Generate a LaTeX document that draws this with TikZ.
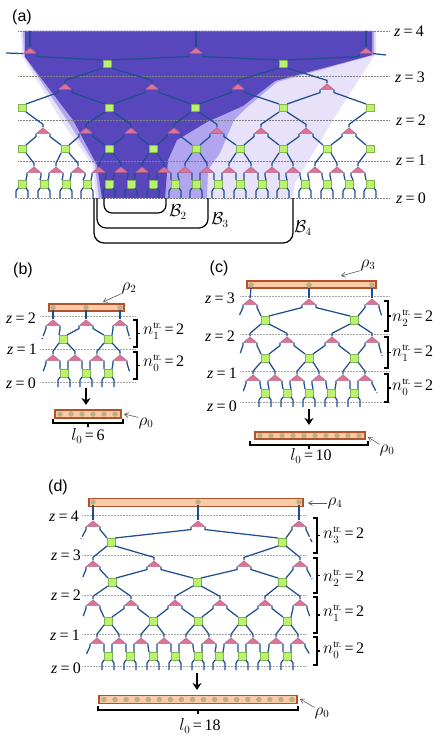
\documentclass[tikz,border=0pt]{standalone}
\usepackage{amsmath}
\usepackage{fontspec}
\setmainfont{Liberation Serif}
\newfontfamily\panelfont{Liberation Sans}
\usetikzlibrary{calc,shapes.geometric,arrows.meta}

\definecolor{wireblue}{HTML}{1F4E8F}
\definecolor{trifill}{HTML}{DB7499}
\definecolor{triedge}{HTML}{B4587C}
\definecolor{sqfill}{HTML}{BBF36E}
\definecolor{sqedge}{HTML}{82B450}
\definecolor{barfill}{HTML}{FBCBA8}
\definecolor{baredge}{HTML}{B2512A}
\definecolor{dotfill}{HTML}{B9B184}
\definecolor{regionA}{HTML}{E7E2FA}
\definecolor{regionB}{HTML}{B0A5EE}
\definecolor{regionC}{HTML}{5847BC}

\tikzset{
  tri/.style={isosceles triangle, isosceles triangle stretches, shape border rotate=90,
    minimum width=13pt, minimum height=5.5pt, inner sep=0pt, fill=trifill, draw=triedge, line width=.4pt},
  sq/.style={rectangle, minimum size=7.5pt, inner sep=0pt, fill=sqfill, draw=sqedge, line width=.5pt},
  wire/.style={wireblue, line width=1.25pt},
  freewire/.style={wire, dash pattern=on 11pt off 2pt on 4pt},
  zline/.style={gray, line width=.5pt, densely dotted},
  zpale/.style={gray!70, line width=.5pt, densely dotted},
  bar/.style={rectangle, inner sep=0pt, fill=barfill, draw=baredge, line width=1.1pt},
  bead/.style={circle, minimum size=5.5pt, inner sep=0pt, fill=dotfill},
  brk/.style={black, line width=1.2pt},
  ptr/.style={gray!70!black, line width=.6pt, -{Straight Barb[length=4pt,width=5pt]}},
  bigarrow/.style={black, line width=2pt, -{Stealth[length=7pt,width=9pt]}},
  lab/.style={font=\fontsize{16}{18}\selectfont, inner sep=0pt},
  panel/.style={font=\panelfont\fontsize{16}{18}\selectfont, inner sep=0pt}
}

\newcommand{\trirow}[3]{\foreach \x [count=\i] in {#3} \node[tri] (#1\i) at (\x,#2) {};}
\newcommand{\sqrow}[3]{\foreach \x [count=\i] in {#3} \node[sq] (#1\i) at (\x,#2) {};}
\newcommand{\beadrow}[3]{\foreach \x [count=\i] in {#3} \node[bead] (#1\i) at (\x,#2) {};}
\newcommand{\tritosq}[3]{\foreach \i/\j/\k in {#3} {
    \ifnum\j>0\relax \draw[wire] (#1\i.left corner) -- ++(0,3) -- (#2\j.north east); \fi
    \ifnum\k>0\relax \draw[wire] (#1\i.right corner) -- ++(0,3) -- (#2\k.north west); \fi}}
\newcommand{\sqtotri}[3]{\foreach \i/\j/\k in {#3} {
    \ifnum\j>0\relax \draw[wire] (#1\i.south west) -- ($(#2\j.apex)+(0,-3)$) -- (#2\j.apex); \fi
    \ifnum\k>0\relax \draw[wire] (#1\i.south east) -- ($(#2\k.apex)+(0,-3)$) -- (#2\k.apex); \fi}}
\newcommand{\chain}[3]{\foreach \i in {1,...,#3} {
    \pgfmathsetmacro{\nxt}{int(\i+1)}
    \draw[wire] (#1\i.left corner) -- ++(0,3) -- (#2\i.north east);
    \draw[wire] (#1\i.right corner) -- ++(0,3) -- (#2\nxt.north west);}}
\newcommand{\footrow}[2]{\foreach \i in {1,...,#2} {
    \draw[wire] (#1\i.south west) -- ++(-2,3) -- ++(0,7);
    \draw[wire] (#1\i.south east) -- ++(2,3) -- ++(0,7);}}
\newcommand{\freeleg}[3]{\coordinate (fr) at (#2,#3); \draw[freewire] (#1) -- ++(0,3) -- (fr);}
\newcommand{\sidebrk}[3]{\draw[brk] (#1,#2) -- ++(4,0) -- ++(0,{#3-#2}) -- ++(-4,0);
  \draw[brk] (#1+4,{(#2+#3)/2}) -- ++(3,0);}
\newcommand{\lowbrk}[4]{\draw[brk] (#1,#3) -- ++(0,4) -- (#2,#3+4) -- (#2,#3);
  \draw[brk] ({(#1+#2)/2},#3+4) -- ++(0,#4);}
\newcommand{\zval}[1]{\textit{z}\hspace{.2em}=\hspace{.2em}#1}
\newcommand{\ntr}[1]{$n_{#1}^{\text{\fontsize{10}{10}\selectfont tr.}}$\,=\,2}

\begin{document}
\begin{tikzpicture}[x=1pt,y=-1pt]
  \useasboundingbox (0,0) rectangle (436,738);

  \fill[regionA] (21,31) -- (376,31) -- (376,53) -- (333,120) -- (295,183) -- (293,198) -- (96,198) -- (92,165) -- (61,120) -- (22,56) -- cycle;
  \fill[regionB] (23,31) -- (374,31) -- (374,55) -- (277,82) -- (245,109) -- (234,120) -- (220,153) -- (208,170) -- (207,198) -- (99,198) -- (95,165) -- (67,120) -- (24,56) -- cycle;
  \fill[regionC] (25,31) -- (372,31) -- (372,55) -- (275,81) -- (243,106) -- (207,122) -- (177,140) -- (168,160) -- (165,198) -- (102,198) -- (97,165) -- (73,120) -- (25,57) -- cycle;

  \foreach \y in {31,76,120,161,198} \draw[zline] (18,\y) -- (390,\y);
  \foreach \y/\t/\x in {31/4/409, 77/3/410, 120/2/411, 160/1/411, 198/0/411}
    \node[lab] (az\t) at (\x,\y) {\zval{\t}};
  \node[panel] (atag) at (22,17) {(a)};

  \coordinate (atop1) at (30,31);
  \coordinate (atop2) at (196,31);
  \coordinate (atop3) at (366,31);
  \coordinate (aendL) at (6,53);
  \coordinate (aendR) at (386,55);
  \trirow{a5t}{51}{30,196,366}
  \sqrow{a4s}{64}{107,283}
  \trirow{a4t}{87}{65,152,238,327}
  \sqrow{a3s}{108}{22,109,195,283,370}
  \trirow{a3t}{131}{43,86,131,174,217,261,306,349}
  \sqrow{a2s}{149}{22,65,109,153,196,240,283,327,370}
  \trirow{a2t}{170}{34,56,78,99,121,142,164,185,207,229,251,272,293,315,337,358}
  \sqrow{a1s}{184}{22,44,66,87,109,131,153,175,196,218,240,262,283,305,327,349,370}
  \foreach \i in {1,2,3} \draw[wire] (atop\i) -- (a5t\i.apex);
  \draw[wire] (a5t1.left corner) -- (aendL);
  \draw[wire] (a5t3.right corner) -- (aendR);
  \tritosq{a5t}{a4s}{1/0/1, 2/1/2, 3/2/0}
  \sqtotri{a4s}{a4t}{1/1/2, 2/3/4}
  \chain{a4t}{a3s}{4}
  \sqtotri{a3s}{a3t}{1/0/1, 2/2/3, 3/4/5, 4/6/7, 5/8/0}
  \chain{a3t}{a2s}{8}
  \sqtotri{a2s}{a2t}{1/0/1, 2/2/3, 3/4/5, 4/6/7, 5/8/9, 6/10/11, 7/12/13, 8/14/15, 9/16/0}
  \chain{a2t}{a1s}{16}
  \footrow{a1s}{17}

  \draw[brk, rounded corners=8pt] (166,198) -- (166,213) -- (104,213) -- (104,198);
  \draw[brk, rounded corners=9pt] (208,198) -- (208,228) -- (97,228) -- (97,198);
  \draw[brk, rounded corners=10pt] (293,198) -- (293,243) -- (94,243) -- (94,198);
  \node[lab] (btwo) at (178,212) {$\mathcal{B}_2$};
  \node[lab] (bthree) at (220,220) {$\mathcal{B}_3$};
  \node[lab] (bfour) at (303,228) {$\mathcal{B}_4$};

  % panel b
  \node[panel] (btag) at (23,270) {(b)};
  \node[bar, minimum width=75pt, minimum height=7pt] (brhotop) at (86.5,307.5) {};
  \node[bar, minimum width=66pt, minimum height=8pt] (brhobot) at (88,414) {};
  \beadrow{bt}{307.5}{53,86,120}
  \beadrow{bb}{414}{60,71,82,93,104,115}
  \foreach \y in {316,349,382} \draw[zpale] (40,\y) -- (136,\y);
  \foreach \y/\t/\x in {318/2/21, 349/1/22, 383/0/21} \node[lab] (bz\t) at (\x,\y) {\zval{\t}};
  \trirow{b3t}{323}{53,86,120}
  \sqrow{b2s}{339}{63,108}
  \trirow{b2t}{358}{53,75,97,120}
  \sqrow{b1s}{373}{64,86,108}
  \foreach \i in {1,2,3} \draw[wire] (bt\i.south) -- (b3t\i.apex);
  \tritosq{b3t}{b2s}{1/0/1, 2/1/2, 3/2/0}
  \sqtotri{b2s}{b2t}{1/1/2, 2/3/4}
  \tritosq{b2t}{b1s}{1/0/1, 2/1/2, 3/2/3, 4/3/0}
  \footrow{b1s}{3}
  \freeleg{b3t1.left corner}{42}{339}
  \freeleg{b3t3.right corner}{130}{339}
  \freeleg{b2t1.left corner}{43}{372}
  \freeleg{b2t4.right corner}{130}{373}
  \sidebrk{133}{320}{347}
  \sidebrk{133}{352}{379}
  \node[lab, anchor=west] (bn1) at (143,331) {\ntr{1}};
  \node[lab, anchor=west] (bn0) at (143,363) {\ntr{0}};
  \coordinate (bflow) at (86,388);
  \coordinate (bland) at (86,405);
  \draw[bigarrow] (bflow) -- (bland);
  \lowbrk{53}{123}{419}{4}
  \node[lab] (bl) at (88,436) {$l_0$\,=\,6};
  \node[lab] (brho2) at (129,288) {$\rho_2$};
  \node[lab] (brho0) at (146,423) {$\rho_0$};
  \coordinate (bhit2) at (103,302);
  \coordinate (bhit0) at (124,414);
  \draw[ptr] (brho2.south west) -- (bhit2);
  \draw[ptr] (brho0.north west) -- (bhit0);

  % panel c
  \node[panel] (ctag) at (219,268) {(c)};
  \node[bar, minimum width=129pt, minimum height=7pt] (crhotop) at (311.5,284.5) {};
  \node[bar, minimum width=110pt, minimum height=7pt] (crhobot) at (310,435.5) {};
  \beadrow{ct}{285}{251,309,372}
  \beadrow{cb}{435.5}{260,271,282,293,304,315,326,337,348,359}
  \foreach \y in {296,334,371,402} \draw[zpale] (240,\y) -- (389,\y);
  \foreach \y/\t/\x in {298/3/220, 336/2/220, 373/1/222, 406/0/222} \node[lab] (cz\t) at (\x,\y) {\zval{\t}};
  \trirow{c4t}{302}{250,309,372}
  \sqrow{c3s}{320}{265,354}
  \trirow{c3t}{340}{250,287,332,372}
  \sqrow{c2s}{358}{265,309,354}
  \trirow{c2t}{378}{253,275,297,319,343,365}
  \sqrow{c1s}{393}{265,287,309,331,354}
  \foreach \i in {1,2,3} \draw[wire] (ct\i.south) -- (c4t\i.apex);
  \tritosq{c4t}{c3s}{1/0/1, 2/1/2, 3/2/0}
  \sqtotri{c3s}{c3t}{1/1/2, 2/3/4}
  \tritosq{c3t}{c2s}{1/0/1, 2/1/2, 3/2/3, 4/3/0}
  \sqtotri{c2s}{c2t}{1/1/2, 2/3/4, 3/5/6}
  \tritosq{c2t}{c1s}{1/0/1, 2/1/2, 3/2/3, 4/3/4, 5/4/5, 6/5/0}
  \footrow{c1s}{5}
  \freeleg{c4t1.left corner}{239}{316}
  \freeleg{c4t3.right corner}{382}{317}
  \freeleg{c3t1.left corner}{240}{354}
  \freeleg{c3t4.right corner}{382}{356}
  \freeleg{c2t1.left corner}{243}{392}
  \freeleg{c2t6.right corner}{377}{393}
  \sidebrk{384}{301}{331}
  \sidebrk{384}{337}{368}
  \sidebrk{384}{374}{402}
  \node[lab, anchor=west] (cn2) at (392,318) {\ntr{2}};
  \node[lab, anchor=west] (cn1) at (392,353) {\ntr{1}};
  \node[lab, anchor=west] (cn0) at (392,387) {\ntr{0}};
  \coordinate (cflow) at (309,409);
  \coordinate (cland) at (309,425);
  \draw[bigarrow] (cflow) -- (cland);
  \lowbrk{250}{368}{441}{4}
  \node[lab] (cl) at (311,456) {$l_0$\,=\,10};
  \node[lab] (crho3) at (368,265) {$\rho_3$};
  \node[lab] (crho0) at (387,450) {$\rho_0$};
  \coordinate (chit3) at (341,276);
  \coordinate (chit0) at (368,437);
  \draw[ptr] (crho3.south west) -- (chit3);
  \draw[ptr] (crho0.north west) -- (chit0);

  % panel d
  \node[panel] (dtag) at (58,487) {(d)};
  \node[bar, minimum width=214pt, minimum height=8pt] (drhotop) at (196,502.5) {};
  \node[bar, minimum width=198pt, minimum height=8pt] (drhobot) at (198,699.5) {};
  \beadrow{dt}{502}{93,198,299}
  \foreach \k [evaluate=\k as \x using 104+11.06*\k, count=\i] in {0,...,17}
    \node[bead] (db\i) at (\x,699.5) {};
  \foreach \y in {515,555,595,634,666} \draw[zpale] (82,\y) -- (307,\y);
  \foreach \y/\t/\x in {516/4/64, 555/3/66, 595/2/66, 635/1/65, 668/0/66} \node[lab] (dz\t) at (\x,\y) {\zval{\t}};
  \trirow{d5t}{524}{93,198,299}
  \sqrow{d4s}{542}{111,282}
  \trirow{d4t}{564}{93,154,244,300}
  \sqrow{d3s}{582}{112,197,282}
  \trirow{d3t}{603}{93,131,175,220,265,300}
  \sqrow{d2s}{621}{108,153,198,242,287}
  \trirow{d2t}{641}{97,119,141,164,186,209,231,253,276,298}
  \sqrow{d1s}{656}{108,130,153,175,198,219,242,264,287}
  \foreach \i in {1,2,3} \draw[wire] (dt\i.south) -- (d5t\i.apex);
  \tritosq{d5t}{d4s}{1/0/1, 2/1/2, 3/2/0}
  \sqtotri{d4s}{d4t}{1/1/2, 2/3/4}
  \tritosq{d4t}{d3s}{1/0/1, 2/1/2, 3/2/3, 4/3/0}
  \sqtotri{d3s}{d3t}{1/1/2, 2/3/4, 3/5/6}
  \tritosq{d3t}{d2s}{1/0/1, 2/1/2, 3/2/3, 4/3/4, 5/4/5, 6/5/0}
  \sqtotri{d2s}{d2t}{1/1/2, 2/3/4, 3/5/6, 4/7/8, 5/9/10}
  \tritosq{d2t}{d1s}{1/0/1, 2/1/2, 3/2/3, 4/3/4, 5/4/5, 6/5/6, 7/6/7, 8/7/8, 9/8/9, 10/9/0}
  \footrow{d1s}{9}
  \freeleg{d5t1.left corner}{81}{539}
  \freeleg{d5t3.right corner}{312}{542}
  \freeleg{d4t1.left corner}{82}{579}
  \freeleg{d4t4.right corner}{312}{579}
  \freeleg{d3t1.left corner}{83}{617}
  \freeleg{d3t6.right corner}{310}{617}
  \freeleg{d2t1.left corner}{86}{655}
  \freeleg{d2t10.right corner}{310}{655}
  \sidebrk{313}{518}{553}
  \sidebrk{313}{558}{593}
  \sidebrk{313}{597}{633}
  \sidebrk{313}{637}{665}
  \node[lab, anchor=west] (dn3) at (323,535) {\ntr{3}};
  \node[lab, anchor=west] (dn2) at (323,578) {\ntr{2}};
  \node[lab, anchor=west] (dn1) at (323,613) {\ntr{1}};
  \node[lab, anchor=west] (dn0) at (323,650) {\ntr{0}};
  \coordinate (dflow) at (197,673);
  \coordinate (dland) at (197,690);
  \draw[bigarrow] (dflow) -- (dland);
  \lowbrk{98}{298}{706}{4}
  \node[lab] (dl) at (200,726) {$l_0$\,=\,18};
  \node[lab] (drho4) at (335,503) {$\rho_4$};
  \node[lab] (drho0) at (322,713) {$\rho_0$};
  \coordinate (dhit4) at (308,503);
  \coordinate (dhit0) at (300,699);
  \draw[ptr] (drho4.west) -- (dhit4);
  \draw[ptr] (drho0.north west) -- (dhit0);
\end{tikzpicture}
\end{document}
